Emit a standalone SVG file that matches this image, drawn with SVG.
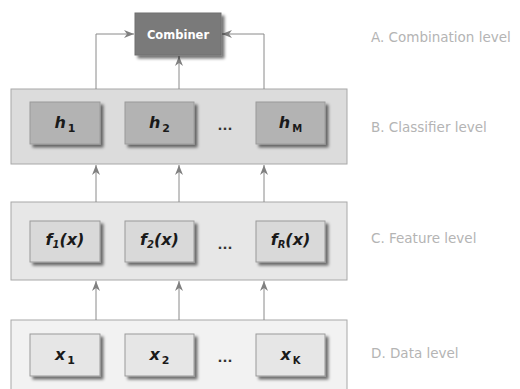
<svg xmlns="http://www.w3.org/2000/svg" width="520" height="389" viewBox="0 0 520 389">
<style>
.panel{stroke:#a8a8a8;stroke-width:1}
.box{stroke:#9a9a9a;stroke-width:1}
.lbl{font-family:"DejaVu Sans",Verdana,sans-serif;font-size:13.5px;fill:#b4b4b4}
.t{font-family:"DejaVu Sans",Verdana,sans-serif;font-weight:bold;font-style:italic;font-size:16px;fill:#1a1a1a;text-anchor:middle}
.dots{font-family:"DejaVu Sans",sans-serif;font-weight:bold;font-size:13px;fill:#333;text-anchor:middle}
.conn{stroke:#8a8a8a;stroke-width:1;fill:none;marker-end:url(#ah)}
</style>
<defs>
<filter id="sh" x="-20%" y="-20%" width="150%" height="160%">
<feGaussianBlur in="SourceAlpha" stdDeviation="1.6"/>
<feOffset dx="3" dy="3" result="b"/>
<feComponentTransfer><feFuncA type="linear" slope="0.55"/></feComponentTransfer>
<feMerge><feMergeNode/><feMergeNode in="SourceGraphic"/></feMerge>
</filter>
<marker id="ah" viewBox="0 0 10 8" refX="10" refY="4" markerWidth="10" markerHeight="8" markerUnits="userSpaceOnUse" orient="auto">
<path d="M0,0 L10,4 L0,8 L3,4 z" fill="#808080"/>
</marker>
</defs>
<rect width="520" height="389" fill="#ffffff"/>

<g id="panelD"><rect class="panel" x="11" y="320" width="336" height="75" fill="#f2f2f2"/></g>
<g id="panelC"><rect class="panel" x="11" y="202" width="336" height="78" fill="#e7e7e7"/></g>
<g id="panelB"><rect class="panel" x="11" y="89" width="336" height="75" fill="#dcdcdc"/></g>

<g id="connectors">
<path class="conn" d="M96,89 V34 H134"/>
<path class="conn" d="M264,89 V34 H222"/>
<path class="conn" d="M179,89 V56"/>
<path class="conn" d="M96,202 V165"/>
<path class="conn" d="M179,202 V165"/>
<path class="conn" d="M264,202 V165"/>
<path class="conn" d="M96,320 V281"/>
<path class="conn" d="M179,320 V281"/>
<path class="conn" d="M264,320 V281"/>
</g>

<g id="combiner">
<rect x="135" y="13" width="86" height="42" fill="#7a7a7a" stroke="#6e6e6e" filter="url(#sh)"/>
<text x="178" y="38.5" font-family="'DejaVu Sans',Verdana,sans-serif" font-weight="bold" font-size="11.5" fill="#ffffff" text-anchor="middle">Combiner</text>
</g>

<g id="h1"><rect class="box" x="30" y="102" width="70" height="42" fill="#b3b3b3" filter="url(#sh)"/><text class="t" x="65" y="128">h<tspan font-size="11" font-style="normal" dx="2" dy="4">1</tspan></text></g>
<g id="h2"><rect class="box" x="125" y="102" width="69" height="42" fill="#b3b3b3" filter="url(#sh)"/><text class="t" x="159.5" y="128">h<tspan font-size="11" font-style="normal" dx="2" dy="4">2</tspan></text></g>
<g id="hdots"><text class="dots" x="225" y="130">...</text></g>
<g id="hM"><rect class="box" x="256" y="102" width="69" height="42" fill="#b3b3b3" filter="url(#sh)"/><text class="t" x="290.5" y="128">h<tspan font-size="10" font-style="normal" dx="2" dy="4">M</tspan></text></g>

<g id="f1"><rect class="box" x="30" y="221" width="70" height="41" fill="#d9d9d9" filter="url(#sh)"/><text class="t" x="65" y="245" font-size="14">f<tspan font-size="10" dy="3">1</tspan><tspan dy="-3">(x)</tspan></text></g>
<g id="f2"><rect class="box" x="125" y="221" width="69" height="41" fill="#d9d9d9" filter="url(#sh)"/><text class="t" x="159.5" y="245" font-size="14">f<tspan font-size="10" dy="3">2</tspan><tspan dy="-3">(x)</tspan></text></g>
<g id="fdots"><text class="dots" x="225" y="249">...</text></g>
<g id="fR"><rect class="box" x="256" y="221" width="69" height="41" fill="#d9d9d9" filter="url(#sh)"/><text class="t" x="290.5" y="245" font-size="14">f<tspan font-size="10" dy="3">R</tspan><tspan dy="-3">(x)</tspan></text></g>

<g id="x1"><rect class="box" x="30" y="334" width="70" height="42" fill="#e6e6e6" filter="url(#sh)"/><text class="t" x="65" y="360" font-size="18">x<tspan font-size="11" font-style="normal" dx="2" dy="4">1</tspan></text></g>
<g id="x2"><rect class="box" x="125" y="334" width="69" height="42" fill="#e6e6e6" filter="url(#sh)"/><text class="t" x="159.5" y="360" font-size="18">x<tspan font-size="11" font-style="normal" dx="2" dy="4">2</tspan></text></g>
<g id="xdots"><text class="dots" x="225" y="362">...</text></g>
<g id="xK"><rect class="box" x="256" y="334" width="69" height="42" fill="#e6e6e6" filter="url(#sh)"/><text class="t" x="290.5" y="360" font-size="18">x<tspan font-size="10" font-style="normal" dx="2" dy="4">K</tspan></text></g>

<g id="labels">
<text class="lbl" x="371" y="42">A. Combination level</text>
<text class="lbl" x="371" y="132">B. Classifier level</text>
<text class="lbl" x="371" y="243">C. Feature level</text>
<text class="lbl" x="371" y="358">D. Data level</text>
</g>
</svg>
